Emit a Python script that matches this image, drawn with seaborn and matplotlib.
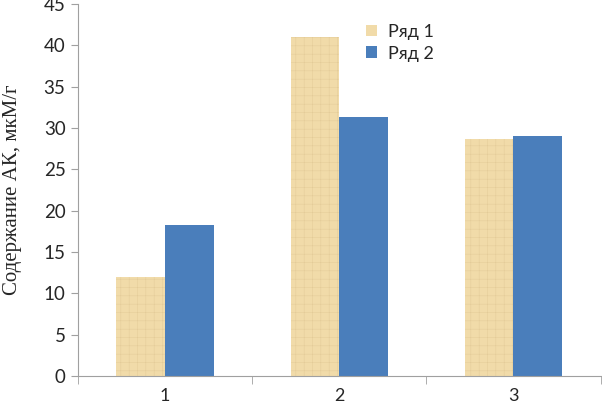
import pandas as pd
import matplotlib.pyplot as plt
import seaborn as sns
from matplotlib.ticker import FixedLocator

# Данные
categories = ['1', '2', '3']
series_names = ['Ряд 1', 'Ряд 2']
row1 = [12.0, 41.0, 28.7]
row2 = [18.3, 31.4, 29.1]

df = pd.DataFrame({
    'cat': categories * 2,
    'series': [series_names[0]] * 3 + [series_names[1]] * 3,
    'value': row1 + row2,
})

sns.set_style("white")
plt.rcParams['font.family'] = ['Lato', 'DejaVu Sans']
plt.rcParams['hatch.linewidth'] = 0.35

fig = plt.figure(figsize=(6.02, 4.15), dpi=100)
ax = fig.add_axes([0.1296, 0.094, 0.868, 0.896])

palette = {'Ряд 1': '#F1DBA9', 'Ряд 2': '#4A7EBB'}
sns.barplot(data=df, x='cat', y='value', hue='series', palette=palette,
            width=0.56, gap=0, saturation=1, ax=ax, legend=True)

# имитация текстуры "папирус"
for bar in ax.patches[:3]:
    bar.set_hatch('++')
    bar.set_edgecolor('#E3CB98')
    bar.set_linewidth(0)
for bar in ax.patches[3:]:
    bar.set_linewidth(0)

ax.set_ylim(0, 45)
ax.set_xlim(-0.5, 2.5)
ax.set_yticks(range(0, 46, 5))
ax.tick_params(axis='y', labelsize=13.5, length=5, color='#A0A0A0', left=True, pad=4)
ax.tick_params(axis='x', which='major', labelsize=13, length=0, pad=9)
ax.xaxis.set_minor_locator(FixedLocator([-0.5, 0.5, 1.5, 2.5]))
ax.tick_params(axis='x', which='minor', length=6, color='#A0A0A0', bottom=True)

for side in ['top', 'right']:
    ax.spines[side].set_visible(False)
for side in ['left', 'bottom']:
    ax.spines[side].set_color('#A0A0A0')
    ax.spines[side].set_linewidth(0.8)

ax.set_xlabel('')
ax.set_ylabel('Содержание АК, мкМ/г', fontsize=15, family=['Liberation Serif'])
ax.yaxis.set_label_coords(-0.108, 0.5)

leg = ax.legend(loc='upper left', bbox_to_anchor=(0.52, 0.99), frameon=False,
                fontsize=13, handlelength=0.6, handleheight=0.6, handletextpad=0.6,
                labelspacing=0.3)

fig.savefig('out.png', dpi=100)
